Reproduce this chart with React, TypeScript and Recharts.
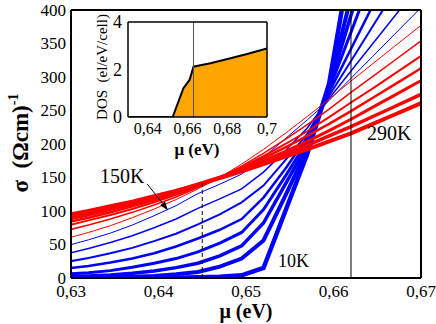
import React from 'react';
import { LineChart, Line, XAxis, YAxis, ReferenceLine, AreaChart, Area } from 'recharts';

// chemical potential grid (eV)
const MU = [0.6295, 0.632, 0.6345, 0.637, 0.6395, 0.642, 0.6445, 0.647, 0.6495, 0.652, 0.6545, 0.657, 0.6595, 0.662, 0.6645, 0.667, 0.6695, 0.672];

// conductivity (Ohm cm)^-1, low temperatures (blue)
const SIGMA_10K = [0, 0, 0, 0, 0.1, 0.3, 1, 2, 4, 15, 100, 185, 290, 480, null, null, null, null];
const SIGMA_30K = [0.3, 0.5, 1, 1.8, 3, 5.5, 9, 17, 29, 56, 123, 192, 287, 420, null, null, null, null];
const SIGMA_50K = [2, 3, 4.5, 7, 10.5, 15.5, 22, 33, 48, 82, 140, 198, 284, 392, 500, null, null, null];
const SIGMA_70K = [6, 8, 11, 16, 22, 29, 39, 52, 68, 102, 152, 204, 281, 367, 453, null, null, null];
const SIGMA_90K = [14, 18, 23, 29, 37, 47, 59, 72, 88, 120, 163, 210, 277, 342, 407, null, null, null];
const SIGMA_110K = [24, 30, 37, 45, 55, 66, 80, 95, 113, 138, 176, 215, 272, 324, 376, 428, null, null];
const SIGMA_130K = [36, 44, 53, 63, 75, 88, 104, 118, 133, 158, 190, 224, 268, 309, 350, 391, 432, null];
const SIGMA_150K = [48, 57, 67, 79, 93, 108, 126, 140, 155, 180, 208, 236, 265, 298, 331, 364, 397, 430];

// high temperatures (red)
const SIGMA_170K = [59, 68, 78, 90, 103, 117, 133, 150, 170, 192, 216, 241, 267, 294, 320, 346, 372, 398];
const SIGMA_190K = [71, 79, 88, 98, 109, 121, 135, 150, 167, 186, 207, 229, 252, 277, 301, 325, 349, 373];
const SIGMA_210K = [78, 86, 94, 103, 113, 124, 136, 150, 165, 182, 200, 219, 240, 262, 283, 305, 327, 349];
const SIGMA_230K = [83, 90, 98, 107, 116, 126, 137, 150, 164, 179, 195, 212, 230, 249, 269, 289, 309, 329];
const SIGMA_250K = [87, 94, 102, 110, 119, 128, 138, 150, 162, 175, 189, 204, 220, 237, 255, 273, 291, 309];
const SIGMA_270K = [91, 98, 105, 113, 121, 130, 140, 150, 161, 173, 185, 198, 212, 226, 241, 256, 271, 286];
const SIGMA_290K = [94, 100, 107, 114, 122, 130, 139, 149, 159, 170, 181, 192, 204, 216, 230, 244, 258, 272];

// inset: density of states
const DOS_MU = [0.63, 0.6525, 0.6579, 0.661, 0.663, 0.6715, 0.6816, 0.69, 0.7];
const DOS = [0, 0, 1.21, 1.56, 2.12, 2.26, 2.47, 2.65, 2.89];

const X_MAJOR = [0.63, 0.64, 0.65, 0.66, 0.67];
const X_MINOR = Array.from({ length: 21 }, (_, i) => +(0.63 + i * 0.002).toFixed(3));
const Y_MAJOR = [0, 50, 100, 150, 200, 250, 300, 350, 400];
const Y_MINOR = Array.from({ length: 41 }, (_, i) => i * 10);
const IX_MAJOR = [0.64, 0.66, 0.68, 0.7];
const IX_MINOR = [0.63, 0.65, 0.67, 0.69];
const IY_MAJOR = [0, 2, 4];
const IY_MINOR = [1, 3];

const SERIES = [
    { key: 't10', data: SIGMA_10K, color: '#0000ff', w: 4.5 },
    { key: 't30', data: SIGMA_30K, color: '#0000ff', w: 4 },
    { key: 't50', data: SIGMA_50K, color: '#0000ff', w: 3.5 },
    { key: 't70', data: SIGMA_70K, color: '#0000ff', w: 3 },
    { key: 't90', data: SIGMA_90K, color: '#0000ff', w: 2.5 },
    { key: 't110', data: SIGMA_110K, color: '#0000ff', w: 2 },
    { key: 't130', data: SIGMA_130K, color: '#0000ff', w: 1.5 },
    { key: 't150', data: SIGMA_150K, color: '#0000ff', w: 1 },
    { key: 't170', data: SIGMA_170K, color: '#ff0000', w: 1 },
    { key: 't190', data: SIGMA_190K, color: '#ff0000', w: 1.5 },
    { key: 't210', data: SIGMA_210K, color: '#ff0000', w: 2 },
    { key: 't230', data: SIGMA_230K, color: '#ff0000', w: 2.5 },
    { key: 't250', data: SIGMA_250K, color: '#ff0000', w: 3 },
    { key: 't270', data: SIGMA_270K, color: '#ff0000', w: 3.5 },
    { key: 't290', data: SIGMA_290K, color: '#ff0000', w: 4 },
];

const rows = MU.map((mu, i) => {
    const r: any = { mu };
    SERIES.forEach(s => { r[s.key] = s.data[i]; });
    return r;
});
const dosRows = DOS_MU.map((mu, i) => ({ mu, dos: DOS[i] }));

const fmt = (v: number) => String(v).replace('.', ',');
const SERIF = '"Liberation Serif", "Times New Roman", serif';
const THIN = 0.001; // axes take no room; margins hold the labels

// tick label renderers (serif)
const XTick = (size: number) => (p: any) => (
    <text x={p.x} y={p.y} dy="0.71em" textAnchor="middle" fill="#000" style={{ fontFamily: SERIF, fontSize: size }}>
        {fmt(p.payload.value)}
    </text>
);
const YTick = (size: number) => (p: any) => (
    <text x={p.x} y={p.y} dy="0.35em" textAnchor="end" fill="#000" style={{ fontFamily: SERIF, fontSize: size }}>
        {p.payload.value}
    </text>
);

const Arrow = (p: any) => {
    const { x1, y1, x2, y2 } = p;
    const a = Math.atan2(y2 - y1, x2 - x1);
    const L = 9, W = 3;
    const bx = x2 - L * Math.cos(a), by = y2 - L * Math.sin(a);
    const pts = `${x2},${y2} ${bx + W * Math.sin(a)},${by - W * Math.cos(a)} ${bx - W * Math.sin(a)},${by + W * Math.cos(a)}`;
    return (
        <g>
            <line x1={x1} y1={y1} x2={bx} y2={by} stroke="#000" strokeWidth={1} />
            <polygon points={pts} fill="#000" />
        </g>
    );
};

// tick-only axes drawn inside the frame
function xTicks(id: string, orient: 'top' | 'bottom', ticks: number[], size: number, dom: number[], sw: number, line: boolean) {
    return (
        <XAxis xAxisId={id} type="number" dataKey="mu" domain={dom} allowDataOverflow orientation={orient} mirror
            height={THIN} ticks={ticks} interval={0} tick={false} tickSize={size}
            axisLine={line ? { stroke: '#000', strokeWidth: sw } : false}
            tickLine={{ stroke: '#000', strokeWidth: sw }} />
    );
}
function yTicks(id: string, orient: 'left' | 'right', ticks: number[], size: number, dom: number[], sw: number, line: boolean) {
    return (
        <YAxis yAxisId={id} type="number" domain={dom} allowDataOverflow orientation={orient} mirror
            width={THIN} ticks={ticks} interval={0} tick={false} tickSize={size}
            axisLine={line ? { stroke: '#000', strokeWidth: sw } : false}
            tickLine={{ stroke: '#000', strokeWidth: sw }} />
    );
}

const label = (text: string, left: number, top: number, size: number) => (
    <div style={{ position: 'absolute', left, top, fontFamily: SERIF, fontSize: size, lineHeight: `${size}px`, whiteSpace: 'nowrap' }}>{text}</div>
);

export default function App() {
    const XD = [0.63, 0.67];
    const YD = [0, 400];
    const IXD = [0.63, 0.7];
    const IYD = [0, 4];
    return (
        <div style={{ position: 'absolute', left: 0, top: 0, width: 436, height: 324, background: '#fff', fontFamily: SERIF }}>
            <LineChart width={436} height={324} data={rows} margin={{ top: 10, right: 15, bottom: 46, left: 71 }}>
                {xTicks('bM', 'bottom', X_MAJOR, 10, XD, 2, false)}
                {xTicks('bm', 'bottom', X_MINOR, 5, XD, 2, false)}
                {xTicks('tM', 'top', X_MAJOR, 10, XD, 2, true)}
                {xTicks('tm', 'top', X_MINOR, 5, XD, 2, false)}
                {yTicks('lM', 'left', Y_MAJOR, 9, YD, 2, false)}
                {yTicks('lm', 'left', Y_MINOR, 5, YD, 2, false)}
                {yTicks('rM', 'right', Y_MAJOR, 9, YD, 2, true)}
                {yTicks('rm', 'right', Y_MINOR, 5, YD, 2, false)}
                <XAxis xAxisId="x" type="number" dataKey="mu" domain={XD} allowDataOverflow ticks={X_MAJOR} interval={0}
                    height={THIN} tickLine={false} tickSize={5} tickMargin={2}
                    axisLine={{ stroke: '#000', strokeWidth: 2 }} tick={XTick(17)} />
                <YAxis yAxisId="y" type="number" domain={YD} allowDataOverflow ticks={Y_MAJOR} interval={0}
                    width={THIN} tickLine={false} tickSize={3} tickMargin={2}
                    axisLine={{ stroke: '#000', strokeWidth: 2 }} tick={YTick(17)} />
                {SERIES.map(s => (
                    <Line key={s.key} xAxisId="x" yAxisId="y" type="linear" dataKey={s.key} stroke={s.color}
                        strokeWidth={s.w} dot={false} activeDot={false} isAnimationActive={false} />
                ))}
                <ReferenceLine xAxisId="x" yAxisId="y" x={0.662} stroke="#000" strokeWidth={1} />
                <ReferenceLine xAxisId="x" yAxisId="y" segment={[{ x: 0.645, y: 0 }, { x: 0.645, y: 142 }]}
                    stroke="#000" strokeWidth={1} strokeDasharray="4 3" />
                <ReferenceLine xAxisId="x" yAxisId="y" segment={[{ x: 0.6387, y: 140.5 }, { x: 0.6411, y: 100.7 }]}
                    shape={Arrow} />
            </LineChart>

            {label('150K', 100, 166, 20)}
            {label('10K', 278, 252, 18)}
            {label('290K', 367, 123, 20)}

            <div style={{ position: 'absolute', left: 146, top: 301, width: 200, textAlign: 'center', fontWeight: 'bold', fontSize: 20, lineHeight: '20px' }}>
                μ (eV)
            </div>
            <div style={{ position: 'absolute', left: -59, top: 129, width: 160, height: 28, lineHeight: '28px', textAlign: 'center', transform: 'rotate(-90deg)', fontWeight: 'bold', fontSize: 23, whiteSpace: 'nowrap' }}>
                σ&nbsp;&nbsp;(Ωcm)<span style={{ fontSize: 14, position: 'relative', top: -10 }}>-1</span>
            </div>

            {/* inset: DOS */}
            <div style={{ position: 'absolute', left: 90, top: 0 }}>
                <AreaChart width={195} height={164} data={dosRows} margin={{ top: 22, right: 18, bottom: 47, left: 38 }}>
                    {xTicks('bM', 'bottom', IX_MAJOR, 8, IXD, 1.5, false)}
                    {xTicks('bm', 'bottom', IX_MINOR, 5, IXD, 1.5, false)}
                    {xTicks('tM', 'top', [], 8, IXD, 1.5, true)}
                    {yTicks('lM', 'left', IY_MAJOR, 8, IYD, 1.5, false)}
                    {yTicks('lm', 'left', IY_MINOR, 5, IYD, 1.5, false)}
                    {yTicks('rM', 'right', IY_MAJOR, 8, IYD, 1.5, true)}
                    {yTicks('rm', 'right', IY_MINOR, 5, IYD, 1.5, false)}
                    <Area xAxisId="x" yAxisId="y" type="linear" dataKey="dos" stroke="#000" strokeWidth={2}
                        fill="#ffa500" fillOpacity={1} dot={false} activeDot={false} isAnimationActive={false} />
                    <XAxis xAxisId="x" type="number" dataKey="mu" domain={IXD} allowDataOverflow ticks={IX_MAJOR} interval={0}
                        height={THIN} tickLine={false} tickSize={4} tickMargin={2}
                        axisLine={{ stroke: '#000', strokeWidth: 1.5 }} tick={XTick(16)} />
                    <YAxis yAxisId="y" type="number" domain={IYD} allowDataOverflow ticks={IY_MAJOR} interval={0}
                        width={THIN} tickLine={false} tickSize={3} tickMargin={3}
                        axisLine={{ stroke: '#000', strokeWidth: 1.5 }} tick={YTick(18)} />
                    <ReferenceLine xAxisId="x" yAxisId="y" x={0.663} stroke="#555" strokeWidth={1} />
                </AreaChart>
            </div>
            <div style={{ position: 'absolute', left: 147, top: 141, width: 100, textAlign: 'center', fontWeight: 'bold', fontSize: 17, lineHeight: '17px' }}>
                μ (eV)
            </div>
            <div style={{ position: 'absolute', left: 27, top: 57, width: 150, height: 20, lineHeight: '20px', textAlign: 'center', transform: 'rotate(-90deg)', fontSize: 15, whiteSpace: 'nowrap' }}>
                DOS&nbsp;&nbsp;(el/eV/cell)
            </div>
        </div>
    );
}
